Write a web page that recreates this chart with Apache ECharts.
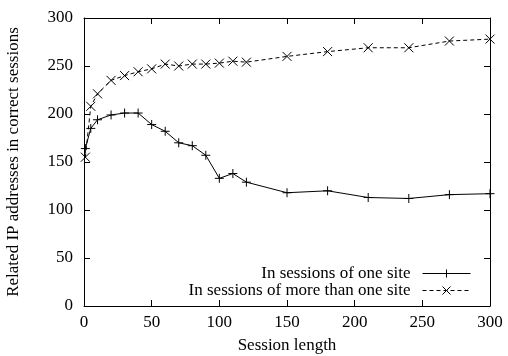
<!DOCTYPE html>
<html>
<head>
<meta charset="utf-8">
<script src="https://cdn.jsdelivr.net/npm/echarts@6/dist/echarts.min.js"></script>
<style>html,body{margin:0;padding:0;background:#fff}#c{width:508px;height:356px}</style>
</head>
<body>
<div id="c"></div>
<script>
const sessionLength = [1, 5, 10, 20, 30, 40, 50, 60, 70, 80, 90, 100, 110, 120, 150, 180, 210, 240, 270, 300];
const oneSite = [164, 185, 194, 199, 201, 201, 189, 182, 170, 167, 157, 133, 138, 129, 118, 120, 113, 112, 116, 117];
const moreSites = [155, 208, 221, 235, 240, 244, 247, 252, 250, 252, 252, 253, 255, 254, 260, 265, 269, 269, 276, 278];
const seriesNames = ['In sessions of one site', 'In sessions of more than one site'];
const xTitle = 'Session length';
const yTitle = 'Related IP addresses in correct sessions';

const FONT = 'Liberation Serif';
const FS = 17;
const plusPath = 'path://M0,5L10,5M5,0L5,10';
const crossPath = 'path://M0,0L10,10M0,10L10,0';

const chart = echarts.init(document.getElementById('c'), null, {renderer: 'canvas'});
const axisCommon = {
  min: 0, max: 300, interval: 50,
  axisLine: {show: true, onZero: false, lineStyle: {color: '#000', width: 1}},
  axisTick: {show: true, inside: true, length: 6, lineStyle: {color: '#000'}},
  splitLine: {show: false}
};
chart.setOption({
  animation: false,
  backgroundColor: '#fff',
  textStyle: {fontFamily: FONT},
  grid: {left: 84, right: 18, top: 18, bottom: 50, containLabel: false, outerBoundsMode: 'none'},
  legend: {
    orient: 'vertical',
    right: 37, bottom: 57,
    align: 'right',
    itemWidth: 48, itemHeight: 10, itemGap: 0,
    padding: 0,
    lineStyle: {width: 1},
    itemStyle: {borderWidth: 1},
    textStyle: {fontFamily: FONT, fontSize: FS, color: '#000', padding: [0, 7, 0, 0], lineHeight: 17},
    data: seriesNames
  },
  xAxis: [
    Object.assign({}, axisCommon, {
      type: 'value', position: 'bottom',
      name: xTitle, nameLocation: 'middle', nameGap: 31,
      nameTextStyle: {fontFamily: FONT, fontSize: FS, color: '#000'},
      axisLabel: {fontFamily: FONT, fontSize: FS, color: '#000', margin: 8}
    }),
    Object.assign({}, axisCommon, {
      type: 'value', position: 'top', axisLabel: {show: false}
    })
  ],
  yAxis: [
    Object.assign({}, axisCommon, {
      type: 'value', position: 'left',
      name: yTitle, nameLocation: 'middle', nameGap: 62, nameRotate: 90,
      nameTextStyle: {fontFamily: FONT, fontSize: FS, color: '#000'},
      axisLabel: {fontFamily: FONT, fontSize: FS, color: '#000', margin: 11}
    }),
    Object.assign({}, axisCommon, {
      type: 'value', position: 'right', axisLabel: {show: false}
    })
  ],
  series: [
    {
      name: seriesNames[0], type: 'line',
      data: sessionLength.map((x, i) => [x, oneSite[i]]),
      symbol: plusPath, symbolSize: 9, showAllSymbol: true,
      lineStyle: {color: '#000', width: 1},
      itemStyle: {color: '#000', borderColor: '#000', borderWidth: 1}
    },
    {
      name: seriesNames[1], type: 'line',
      data: sessionLength.map((x, i) => [x, moreSites[i]]),
      symbol: crossPath, symbolSize: 9, showAllSymbol: true,
      lineStyle: {color: '#000', width: 1, type: [4, 3]},
      itemStyle: {color: '#000', borderColor: '#000', borderWidth: 1}
    }
  ]
});
</script>
</body>
</html>
